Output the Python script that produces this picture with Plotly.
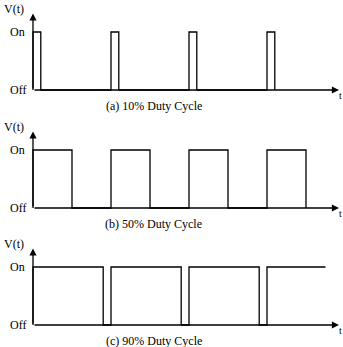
import plotly.graph_objects as go

# Square-wave pulse trains at three duty cycles
pulse_starts = [0, 1, 2, 3]                 # rising edges, in periods
duty_cycles = [10, 50, 90]                   # percent of one period
captions = ["(a) 10% Duty Cycle", "(b) 50% Duty Cycle", "(c) 90% Duty Cycle"]
signal_end = [None, None, 3.75]              # where the drawn signal stops (None = after last fall)
level_values = [0, 1]
level_labels = ["Off", "On"]
axis_label_y = "V(t)"
axis_label_t = "t"

W, H = 343, 347
PX_PER_PERIOD = 78.0          # horizontal scale
PX_PER_LEVEL = 58.0           # vertical distance Off -> On
ORIGIN_X = 33.0               # pixel column of the vertical axis
T_AXIS_END = (339 - ORIGIN_X) / PX_PER_PERIOD
T_RIGHT_EDGE = (W - ORIGIN_X) / PX_PER_PERIOD

# panel bands (top, bottom) in pixels and pixel row of the Off level
bands = [(0, 116, 90), (116, 232, 208), (232, 347, 325)]

FONT = "Liberation Serif, Times New Roman, serif"
LINE = dict(color="black", width=1.3)

fig = go.Figure()
layout = dict(
    width=W, height=H, autosize=False,
    margin=dict(l=0, r=0, t=0, b=0),
    paper_bgcolor="white", plot_bgcolor="white",
    showlegend=False,
    xaxis=dict(range=[-ORIGIN_X / PX_PER_PERIOD, T_RIGHT_EDGE],
               visible=False, fixedrange=True),
)
annotations = []

for i, (duty, cap, t_end) in enumerate(zip(duty_cycles, captions, signal_end)):
    top, bot, off_px = bands[i]
    lo = -(bot - off_px) / PX_PER_LEVEL
    hi = lo + (bot - top) / PX_PER_LEVEL
    yname = "yaxis" if i == 0 else f"yaxis{i + 1}"
    yref = "y" if i == 0 else f"y{i + 1}"
    layout[yname] = dict(domain=[1 - bot / H, 1 - top / H], range=[lo, hi],
                         visible=False, fixedrange=True, anchor="x")

    # build the step waveform
    xs, ys = [], []
    d = duty / 100.0
    for s in pulse_starts:
        fall = s + d
        xs += [s, s]
        ys += [level_values[0], level_values[1]]
        if t_end is not None and t_end < fall:
            xs.append(t_end)
            ys.append(level_values[1])
        else:
            xs += [fall, fall]
            ys += [level_values[1], level_values[0]]
    fig.add_trace(go.Scatter(x=xs, y=ys, mode="lines", line=LINE,
                             xaxis="x", yaxis=yref, hoverinfo="skip"))

    # vertical axis arrow
    annotations.append(dict(x=0, y=1.32, ax=0, ay=0, xref="x", yref=yref,
                            axref="x", ayref=yref, text="", showarrow=True,
                            arrowhead=2, arrowsize=1.1, arrowwidth=1.3,
                            arrowcolor="black", standoff=0, startstandoff=0))
    # time axis arrow
    annotations.append(dict(x=T_AXIS_END, y=0, ax=0, ay=0, xref="x", yref=yref,
                            axref="x", ayref=yref, text="", showarrow=True,
                            arrowhead=2, arrowsize=1.1, arrowwidth=1.3,
                            arrowcolor="black", standoff=0, startstandoff=0))
    # labels
    annotations.append(dict(x=-0.09, y=1.4, xref="x", yref=yref, text=axis_label_y,
                            showarrow=False, xanchor="right", yanchor="middle",
                            font=dict(family=FONT, size=12, color="black")))
    for v, lab in zip(level_values, level_labels):
        annotations.append(dict(x=-0.32, y=v, xref="x", yref=yref, text=lab,
                                showarrow=False, xanchor="left", yanchor="middle",
                                font=dict(family=FONT, size=12, color="black")))
    annotations.append(dict(x=T_RIGHT_EDGE, y=-0.1, xref="x", yref=yref,
                            text=axis_label_t, showarrow=False, xanchor="right",
                            yanchor="middle", borderpad=0,
                            font=dict(family=FONT, size=10, color="black")))
    annotations.append(dict(x=1.55, y=-0.27, xref="x", yref=yref, text=cap,
                            showarrow=False, xanchor="center", yanchor="middle",
                            font=dict(family=FONT, size=12, color="black")))

layout["annotations"] = annotations
fig.update_layout(**layout)
fig.write_html("out.html", config={"displayModeBar": False})
